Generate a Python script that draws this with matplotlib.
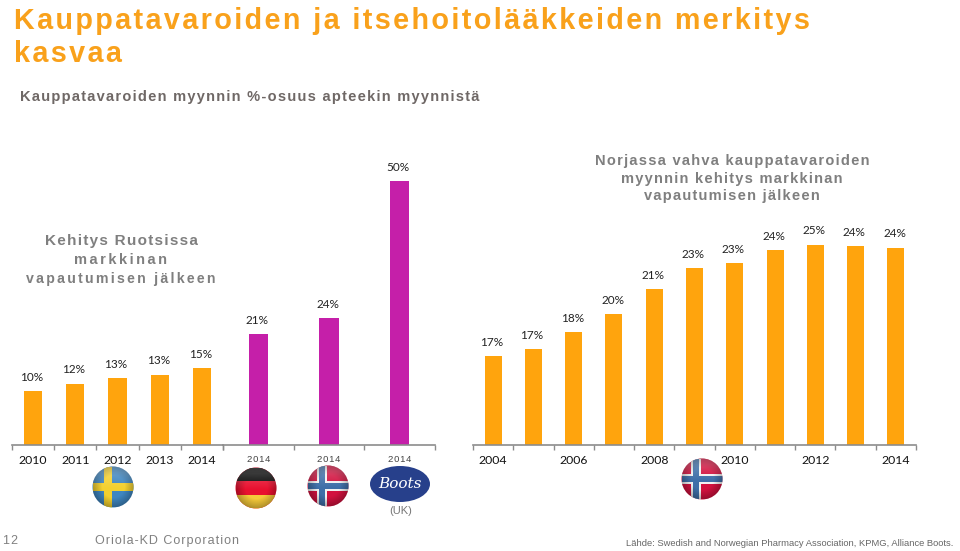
from matplotlib import pyplot as plt
from matplotlib.patches import Circle, Ellipse, Rectangle
import numpy as np

W, H = 960, 551
BASE_Y = 445

# Sweden 2010-2014
sweden_years = ["2010", "2011", "2012", "2013", "2014"]
sweden_values = [10.2, 11.6, 12.7, 13.3, 14.6]
sweden_labels = ["10%", "12%", "13%", "13%", "15%"]

# other markets in 2014
other_years = ["2014", "2014", "2014"]
other_values = [21.0, 24.0, 50.0]
other_labels = ["21%", "24%", "50%"]

# Norway 2004-2014, this axis does not start from zero in the original
norway_years = ["2004", "", "2006", "", "2008", "", "2010", "", "2012", "", "2014"]
norway_values = [16.9, 17.4, 18.6, 19.9, 21.7, 23.2, 23.6, 24.5, 24.9, 24.8, 24.7]
norway_labels = ["17%", "17%", "18%", "20%", "21%", "23%", "23%", "24%", "25%", "24%", "24%"]

ORANGE = "#FFA40D"
PURPLE = "#C51FA9"
AXIS_GREY = "#8C8C8C"
TEXT_GREY = "#7F7F7F"
HAIR = "\u200a"


def spaced(text, n=1):
    # letter spacing like the slide, matplotlib has no option for it
    return (HAIR * n).join(text)


def make_axes(x0, x1, ymax_px, ymin_value, px_per_unit):
    ax = fig.add_axes([x0 / W, 1 - BASE_Y / H, (x1 - x0) / W, ymax_px / H])
    ax.set_ylim(ymin_value, ymin_value + ymax_px / px_per_unit)
    ax.patch.set_alpha(0)
    for side in ["top", "left", "right"]:
        ax.spines[side].set_visible(False)
    ax.spines["bottom"].set_color(AXIS_GREY)
    ax.spines["bottom"].set_linewidth(1.2)
    ax.yaxis.set_visible(False)
    return ax


def draw_bars(ax, values, labels, color, width):
    x = np.arange(len(values))
    ax.bar(x, values, width=width, color=color)
    ax.set_xlim(-0.5, len(values) - 0.5)
    ax.set_xticks(np.arange(len(values) + 1) - 0.5)
    ax.set_xticklabels([])
    ax.tick_params(axis="x", length=3.5, width=1, color=AXIS_GREY)
    for i, v in enumerate(values):
        ax.annotate(labels[i], (i, v), xytext=(-1, 10), textcoords="offset points",
                    ha="center", va="center", fontsize=8.5, family="Lato", color="#222222")


def year_labels(ax, years, font, size, color, y_px, gap=0):
    for i, year in enumerate(years):
        if year:
            ax.annotate(spaced(year, gap), (i, 0), xycoords=("data", "axes fraction"),
                        xytext=(0, -(y_px - BASE_Y) * 0.72), textcoords="offset points",
                        ha="center", va="center", fontsize=size, family=font, color=color)


def shade(ov, circle_patch, cx, cy, r):
    # the flags are glossy balls in the original
    yy, xx = np.mgrid[-1:1:80j, -1:1:80j]
    d = np.sqrt(xx ** 2 + yy ** 2)
    rgba = np.zeros((80, 80, 4))
    rgba[..., 3] = np.clip(d - 0.55, 0, 1) * 0.6
    im = ov.imshow(rgba, extent=[cx - r, cx + r, cy + r, cy - r], zorder=5, aspect="auto")
    im.set_clip_path(circle_patch)
    gloss = np.ones((80, 80, 4))
    gloss[..., 3] = np.clip(0.25 * (0.1 - yy), 0, 0.2)
    im2 = ov.imshow(gloss, extent=[cx - r, cx + r, cy + r, cy - r], zorder=6, aspect="auto")
    im2.set_clip_path(circle_patch)


def flag(ov, cx, cy, r, background, rects):
    clip = Circle((cx, cy), r, transform=ov.transData, facecolor=background, edgecolor="none", zorder=3)
    ov.add_patch(clip)
    for (x, y, w, h, c) in rects:
        p = Rectangle((cx + x * r, cy + y * r), w * r, h * r, facecolor=c, edgecolor="none", zorder=4)
        ov.add_patch(p)
        p.set_clip_path(clip)
    shade(ov, clip, cx, cy, r)


def norway(ov, cx, cy, r=20.5):
    flag(ov, cx, cy, r, "#D2123F", [
        (-0.55, -1, 0.5, 2, "#F2F2F2"),
        (-1, -0.25, 2, 0.5, "#F2F2F2"),
        (-0.43, -1, 0.26, 2, "#3F6FA8"),
        (-1, -0.13, 2, 0.26, "#3F6FA8"),
    ])


fig = plt.figure(figsize=(W / 100, H / 100), dpi=100, facecolor="white")

# overlay in pixel coordinates for the slide decoration
ov = fig.add_axes([0, 0, 1, 1])
ov.set_xlim(0, W)
ov.set_ylim(H, 0)
ov.axis("off")

ax_sweden = make_axes(12, 223, 280, 0, 5.28)
draw_bars(ax_sweden, sweden_values, sweden_labels, ORANGE, 0.43)
year_labels(ax_sweden, sweden_years, "Lato", 8.8, "#111111", 461)

ax_other = make_axes(223, 435, 280, 0, 5.28)
draw_bars(ax_other, other_values, other_labels, PURPLE, 0.27)
year_labels(ax_other, other_years, "Liberation Sans", 6.8, "#444444", 459, gap=1)

ax_norway = make_axes(473, 916, 280, 10.5, 13.9)
draw_bars(ax_norway, norway_values, norway_labels, ORANGE, 0.42)
year_labels(ax_norway, norway_years, "Lato", 8.8, "#111111", 461)

# titles
ov.text(14, 21, spaced("Kauppatavaroiden ja itsehoitolääkkeiden merkitys"), fontsize=20.7,
        fontweight="bold", family="Liberation Sans", color="#F9A11B", va="center")
ov.text(14, 54, spaced("kasvaa"), fontsize=20.7,
        fontweight="bold", family="Liberation Sans", color="#F9A11B", va="center")
ov.text(20, 97, spaced("Kauppatavaroiden myynnin %-osuus apteekin myynnistä"), fontsize=10.5,
        fontweight="bold", family="Liberation Sans", color="#6F6866", va="center")

# notes
for txt, x, y, gap, size in [("Kehitys Ruotsissa", 121, 241, 1, 11),
                             ("markkinan", 121, 260, 2, 10.5),
                             ("vapautumisen jälkeen", 121, 279, 2, 10.2),
                             ("Norjassa vahva kauppatavaroiden", 732, 161, 1, 10.5),
                             ("myynnin kehitys markkinan", 732, 179, 1, 10.5),
                             ("vapautumisen jälkeen", 732, 196, 1, 10.5)]:
    ov.text(x, y, spaced(txt, gap), fontsize=size, fontweight="bold", family="Liberation Sans",
            color=TEXT_GREY, ha="center", va="center")

# flags
flag(ov, 113, 487, 20.5, "#3F86C0", [(-0.45, -1, 0.4, 2, "#F3D02F"), (-1, -0.2, 2, 0.4, "#F3D02F")])
flag(ov, 256, 488, 20.5, "#E8102F", [(-1, -1, 2, 0.67, "#0A0A0A"), (-1, 0.33, 2, 0.67, "#F5C93A")])
norway(ov, 328, 486)
norway(ov, 702, 479)

# Boots logo
ov.add_patch(Ellipse((400, 484), 60, 36, facecolor="#27408B", edgecolor="none", zorder=3))
ov.text(400, 484, "Boots", fontsize=11, style="italic", family="DejaVu Serif", color="white",
        ha="center", va="center", zorder=4)
ov.text(401, 511, "(UK)", fontsize=8, family="Liberation Sans", color="#777777", ha="center", va="center")

# footer
ov.text(3, 541, spaced("12"), fontsize=9, family="Liberation Sans", color="#808080", va="center")
ov.text(95, 541, spaced("Oriola-KD Corporation"), fontsize=9, family="Liberation Sans", color="#808080", va="center")
ov.text(626, 543, "Lähde: Swedish and Norwegian Pharmacy Association, KPMG, Alliance Boots.",
        fontsize=6.75, family="Liberation Sans", color="#666666", va="center")

plt.savefig("out.png", dpi=100)
